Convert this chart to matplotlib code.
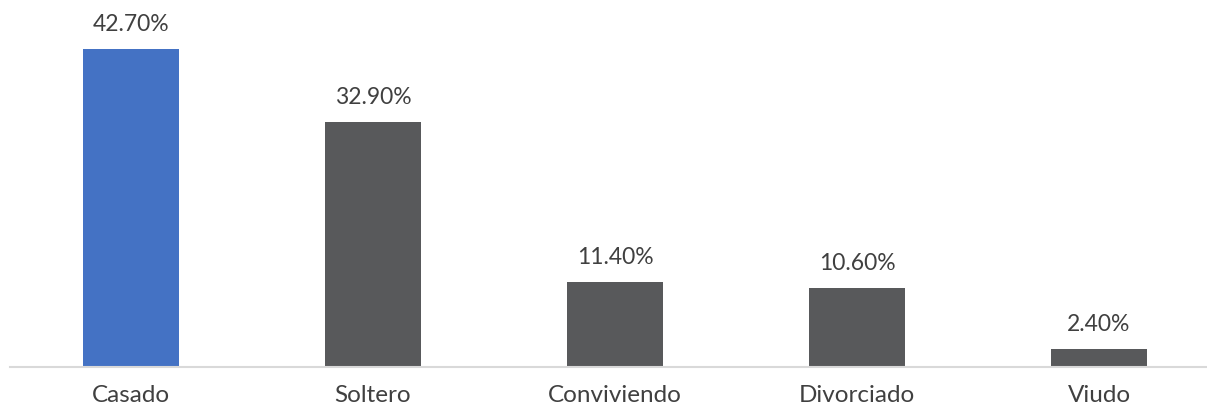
import matplotlib.pyplot as plt

# Data
categorias = ['Casado', 'Soltero', 'Conviviendo', 'Divorciado', 'Viudo']
porcentajes = [42.7, 32.9, 11.4, 10.6, 2.4]
colores = ['#4472C4', '#58595B', '#58595B', '#58595B', '#58595B']

plt.rcParams['font.family'] = ['Lato', 'DejaVu Sans']
text_color = '#404040'

fig = plt.figure(figsize=(12.07, 4.08), dpi=100)
ax = fig.add_axes([10 / 1207, 41 / 408, 1197 / 1207, 367 / 408])

x = range(len(categorias))
bars = ax.bar(x, porcentajes, width=0.4, color=colores)

for b, v in zip(bars, porcentajes):
    ax.annotate(f'{v:.2f}%', (b.get_x() + b.get_width() / 2, v),
                xytext=(0, 10), textcoords='offset points',
                ha='center', va='bottom', fontsize=16.5, color=text_color)

ax.set_xlim(-0.5, -0.5 + 1197 / 242)
ax.set_ylim(0, 367 / 7.45)
ax.set_xticks(list(x))
ax.set_xticklabels(categorias, fontsize=17.5, color=text_color)
ax.tick_params(axis='x', length=0, pad=13)
ax.set_yticks([])

for s in ['top', 'right', 'left']:
    ax.spines[s].set_visible(False)
ax.spines['bottom'].set_color('#D9D9D9')
ax.spines['bottom'].set_linewidth(1.5)

fig.savefig('out.png', dpi=100)
